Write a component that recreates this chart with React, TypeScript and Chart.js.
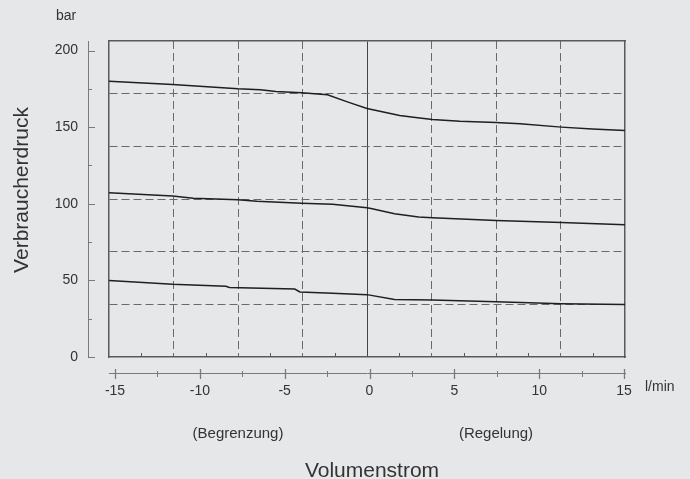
import React, { useEffect, useRef } from "react";
import { Chart, registerables } from "chart.js";

Chart.register(...registerables);

// ---- data ----
const FLOW_TOP = [-15, -11.3, -7.5, -6.2, -5.3, -3.8, -2.3, -1.1, 0, 1.9, 2.7, 3.8, 5.4, 7.5, 8.9, 11.3, 13.1, 15];
const PRESS_TOP = [180, 177.8, 175.0, 174.4, 173.3, 172.4, 171.1, 166.3, 162.2, 157.6, 156.5, 155.0, 153.9, 153.0, 152.2, 150.0, 148.7, 147.8];

const FLOW_MID = [-15, -11.3, -10.1, -7.5, -6.4, -3.8, -2.0, 0, 0.3, 1.6, 3.0, 3.8, 7.5, 11.3, 15];
const PRESS_MID = [107.2, 105.0, 103.6, 102.6, 101.7, 100.4, 99.6, 97.4, 96.8, 93.5, 91.3, 90.9, 89.1, 87.8, 86.3];

const FLOW_BOT = [-15, -11.3, -8.2, -8.0, -4.2, -3.9, -2.0, 0, 1.6, 3.8, 7.5, 11.3, 15];
const PRESS_BOT = [50.0, 47.4, 46.2, 45.4, 44.3, 42.4, 41.6, 40.7, 37.6, 37.2, 36.1, 34.8, 34.2];

// axis ticks
const Y_TICKS = [0, 25, 50, 75, 100, 125, 150, 175, 200];
const FLOW_TICKS = [-15, -12.5, -10, -7.5, -5, -2.5, 0, 2.5, 5, 7.5, 10, 12.5, 15];
const BOX_X_GRID = [-15, -11.25, -7.5, -3.75, 0, 3.75, 7.5, 11.25, 15];
const BOX_X_MINOR = [-13.125, -9.375, -5.625, -1.875, 1.875, 5.625, 9.375, 13.125];
const BOX_Y_DIVS = [0, 1, 2, 3, 4, 5, 6];
const REGION_LABELS = ["(Begrenzung)", "(Regelung)"];
const REGION_CENTERS = [-7.5, 7.5];

// ---- layout / style constants ----
const Y_MAX = 206.2;
const X2_MIN = -15.354;
const X2_MAX = 15.059;
const FONT = '"Liberation Sans", Arial, Helvetica, sans-serif';
const TEXT = "#333333";
const BG = "#e6e7e9";
const GRID = "#6a6a6a";
const BOX = "#5a5a5a";
const AXIS = "#7a7a7a";
const CURVE = "#1f1f1f";

const decor = {
  id: "decor",
  afterDraw(chart: any) {
    const { ctx, chartArea } = chart;
    const x = chart.scales.x;
    const x2 = chart.scales.x2;
    const yAxis = chart.scales.yAxis;
    ctx.save();
    ctx.lineWidth = 1;
    // outer y-axis ticks (pointing right)
    ctx.strokeStyle = AXIS;
    Y_TICKS.forEach((v) => {
      const py = Math.round(yAxis.getPixelForValue(v)) + 0.5;
      const len = v % 50 === 0 ? 7 : 4;
      ctx.beginPath();
      ctx.moveTo(yAxis.right, py);
      ctx.lineTo(yAxis.right + len, py);
      ctx.stroke();
    });
    // x2 cross ticks
    FLOW_TICKS.forEach((v) => {
      const px = Math.round(x2.getPixelForValue(v)) + 0.5;
      const major = v % 5 === 0;
      ctx.lineWidth = major ? 1.3 : 1;
      ctx.beginPath();
      ctx.moveTo(px, x2.top - (major ? 4 : 2));
      ctx.lineTo(px, x2.top + (major ? 6 : 4));
      ctx.stroke();
    });
    // inward ticks on the box bottom
    ctx.lineWidth = 1;
    ctx.strokeStyle = BOX;
    BOX_X_MINOR.forEach((v) => {
      const px = Math.round(x.getPixelForValue(v)) + 0.5;
      ctx.beginPath();
      ctx.moveTo(px, chartArea.bottom);
      ctx.lineTo(px, chartArea.bottom - 4);
      ctx.stroke();
    });

    // texts
    ctx.fillStyle = TEXT;
    ctx.textBaseline = "alphabetic";
    ctx.font = `14px ${FONT}`;
    ctx.textAlign = "center";
    ctx.fillText("bar", 66, 20);
    ctx.textAlign = "left";
    ctx.fillText("l/min", 645, 391);

    ctx.font = `15px ${FONT}`;
    ctx.textAlign = "center";
    REGION_LABELS.forEach((t, i) => {
      ctx.fillText(t, x.getPixelForValue(REGION_CENTERS[i]), 438);
    });

    ctx.font = `21px ${FONT}`;
    ctx.fillText("Volumenstrom", (chartArea.left + chartArea.right) / 2 + 5, 477);

    ctx.translate(28, 190);
    ctx.rotate(-Math.PI / 2);
    ctx.fillText("Verbraucherdruck", 0, 0);
    ctx.restore();
  },
};

const toPoints = (xs: number[], ys: number[]) => xs.map((v, i) => ({ x: v, y: ys[i] }));

export default function App() {
  const ref = useRef<HTMLCanvasElement | null>(null);

  useEffect(() => {
    if (!ref.current) return;
    Chart.defaults.font.family = FONT;
    const mk = (data: { x: number; y: number }[]) => ({
      data,
      borderColor: CURVE,
      borderWidth: 1.5,
      pointRadius: 0,
      tension: 0,
      fill: false,
      xAxisID: "x",
      yAxisID: "y",
    });
    const chart = new Chart(ref.current, {
      type: "line",
      data: {
        datasets: [
          mk(toPoints(FLOW_TOP, PRESS_TOP)),
          mk(toPoints(FLOW_MID, PRESS_MID)),
          mk(toPoints(FLOW_BOT, PRESS_BOT)),
        ],
      },
      options: {
        responsive: false,
        animation: false,
        events: [],
        layout: { padding: { left: 0, top: 41, right: 65, bottom: 0 } },
        plugins: { legend: { display: false }, tooltip: { enabled: false }, title: { display: false } },
        scales: {
          x: {
            type: "linear",
            position: "bottom",
            weight: 0,
            min: -15,
            max: 15,
            afterBuildTicks: (s: any) => {
              s.ticks = BOX_X_GRID.map((v) => ({ value: v }));
            },
            afterFit: (s: any) => {
              s.height = 16;
            },
            ticks: { display: false },
            grid: {
              drawTicks: false,
              lineWidth: 1,
              color: (c: any) =>
                c.tick && (c.tick.value === 0 || Math.abs(c.tick.value) === 15) ? "rgba(0,0,0,0)" : GRID,
            },
            border: { display: true, color: BOX, width: 1.5, dash: [8, 4] },
          },
          x2: {
            type: "linear",
            position: "bottom",
            weight: 1,
            min: X2_MIN,
            max: X2_MAX,
            afterBuildTicks: (s: any) => {
              s.ticks = FLOW_TICKS.map((v) => ({ value: v }));
            },
            afterFit: (s: any) => {
              s.height = 106;
            },
            ticks: {
              color: TEXT,
              font: { size: 14, family: FONT },
              padding: 10,
              maxRotation: 0,
              autoSkip: false,
              callback: (v: any) => (Number(v) % 5 === 0 ? String(v) : ""),
            },
            grid: { display: false, drawTicks: false },
            border: { display: true, color: AXIS, width: 1 },
          },
          xc: {
            type: "linear",
            position: "top",
            min: -15,
            max: 15,
            afterBuildTicks: (s: any) => {
              s.ticks = [{ value: 0 }];
            },
            afterFit: (s: any) => {
              s.height = 0;
            },
            ticks: { display: false },
            grid: { drawTicks: false, color: "#444444", lineWidth: 1 },
            border: { display: true, color: BOX, width: 1.5 },
          },
          y: {
            type: "linear",
            position: "left",
            weight: 0,
            min: 0,
            max: Y_MAX,
            afterBuildTicks: (s: any) => {
              s.ticks = BOX_Y_DIVS.map((k) => ({ value: (Y_MAX * k) / 6 }));
            },
            afterFit: (s: any) => {
              s.width = 21;
            },
            ticks: { display: false },
            grid: {
              drawTicks: false,
              lineWidth: 1,
              color: (c: any) => (c.index === 0 || c.index === 6 ? "rgba(0,0,0,0)" : GRID),
            },
            border: { display: true, color: BOX, width: 1.5, dash: [8, 4] },
          },
          yAxis: {
            type: "linear",
            position: "left",
            weight: 1,
            min: 0,
            max: Y_MAX,
            afterBuildTicks: (s: any) => {
              s.ticks = Y_TICKS.map((v) => ({ value: v }));
            },
            afterFit: (s: any) => {
              s.width = 88;
            },
            ticks: {
              color: TEXT,
              font: { size: 14, family: FONT },
              padding: 10,
              autoSkip: false,
              callback: (v: any) => (Number(v) % 50 === 0 ? String(v) : ""),
            },
            grid: { display: false, drawTicks: false },
            border: { display: true, color: AXIS, width: 1 },
          },
          yr: {
            type: "linear",
            position: "right",
            min: 0,
            max: 1,
            afterFit: (s: any) => {
              s.width = 0;
            },
            ticks: { display: false },
            grid: { display: false, drawTicks: false },
            border: { display: true, color: BOX, width: 1.5 },
          },
        },
      } as any,
      plugins: [decor],
    });
    return () => chart.destroy();
  }, []);

  return (
    <div
      style={{
        position: "fixed",
        left: 0,
        top: 0,
        width: 690,
        height: 479,
        background: BG,
      }}
    >
      <canvas ref={ref} width={690} height={479} style={{ display: "block" }} />
    </div>
  );
}
